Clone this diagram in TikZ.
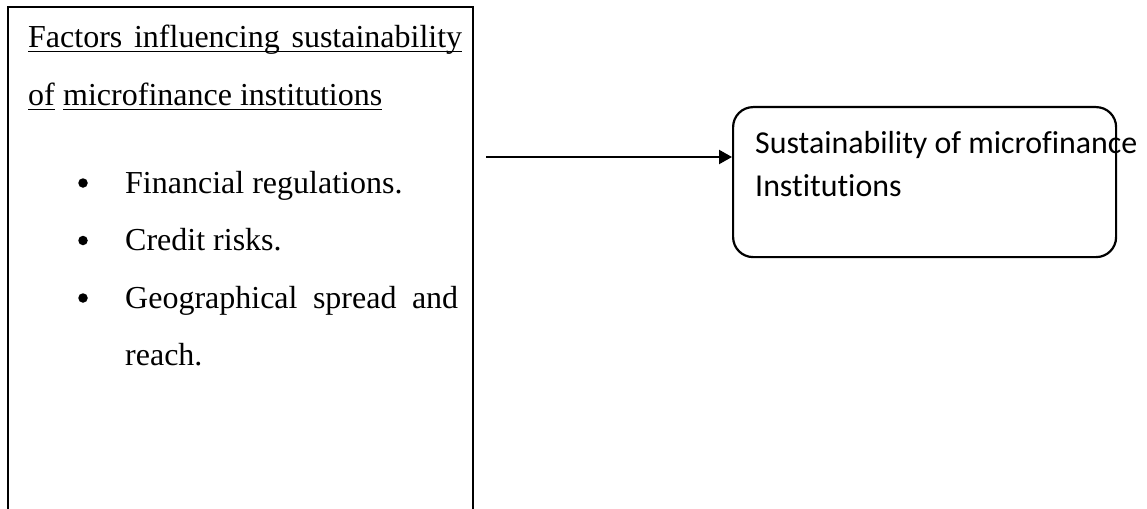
\documentclass[tikz,border=0pt]{standalone}
\usepackage{fontspec}
\setmainfont[Ligatures=NoCommon]{Liberation Serif}
\newfontfamily\calfont[Ligatures=NoCommon]{Carlito}
\usetikzlibrary{arrows.meta,calc}
\tikzset{
  frame/.style={line width=2.6pt, line join=miter},
  txt/.style={anchor=base west, inner sep=0pt, font=\fontsize{32}{38}\selectfont},
  rtxt/.style={anchor=base west, inner sep=0pt, font=\calfont\fontsize{31.9}{38}\selectfont},
  uline/.style={line width=1.8pt},
  bul/.style={circle, fill=black, inner sep=0pt, minimum size=9.5pt},
  target/.style={draw, line width=2.2pt, rounded corners=20pt, minimum width=383pt, minimum height=150pt, inner sep=0pt, anchor=north west},
  conn/.style={line width=2.2pt, -{Triangle[length=13pt,width=14pt]}}
}
\begin{document}
\begin{tikzpicture}[x=1pt,y=-1pt]
\useasboundingbox (0,0) rectangle (1147,508);
% left open box
\coordinate (lbl) at (8,512);
\coordinate (ltl) at (8,7);
\coordinate (ltr) at (473,7);
\coordinate (lbr) at (473,512);
\draw[frame] (lbl) -- (ltl) -- (ltr) -- (lbr);
% title
\node[txt] (t1) at (28,48) {\makebox[434pt][s]{Factors influencing sustainability}};
\node[txt] (t2) at (28,106) {of};
\node[txt] (t3) at (63,106) {microfinance institutions};
\draw[uline] ($(t1.base west)+(0,3.5)$) -- ($(t1.base east)+(0,3.5)$);
\draw[uline] ($(t2.base west)+(0,3.5)$) -- ($(t2.base east)+(0,3.5)$);
\draw[uline] ($(t3.base west)+(0,3.5)$) -- ($(t3.base east)+(0,3.5)$);
% bullets
\node[bul] (b1) at (83,183) {};
\node[bul] (b2) at (83,240.5) {};
\node[bul] (b3) at (83,298) {};
\node[txt] (i1) at (125,193) {Financial regulations.};
\node[txt] (i2) at (125,250.5) {Credit risks.};
\node[txt] (i3) at (125,308) {\makebox[333pt][s]{Geographical spread and}};
\node[txt] (i4) at (125,365.5) {reach.};
% right box
\node[target] (rb) at (732,106) {};
\node[rtxt] (r1) at (755,153) {Sustainability of microfinance};
\node[rtxt] (r2) at (755,196) {Institutions};
% arrow
\coordinate (a0) at (486,157);
\draw[conn] (a0) -- (a0 -| rb.west);
\end{tikzpicture}
\end{document}
